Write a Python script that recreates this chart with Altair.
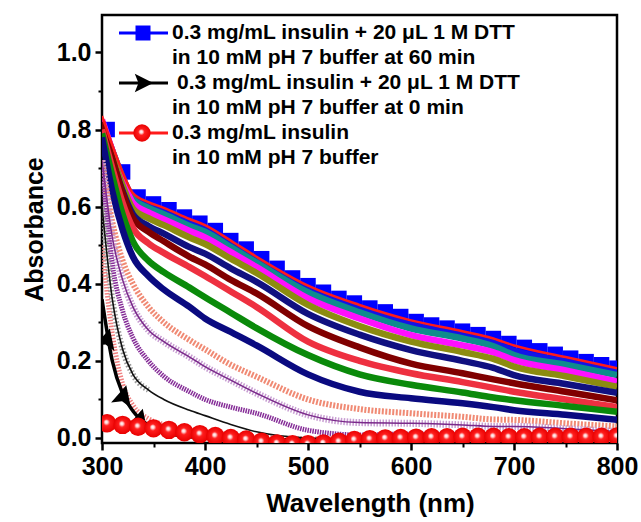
import altair as alt
import pandas as pd

# ---------------- data ----------------
wavelength = [300, 310, 320, 330, 345, 360, 385, 400, 425, 450, 500, 550, 600, 650, 680, 700, 750, 800]

red_top   = [0.835, 0.76, 0.69, 0.635, 0.612, 0.597, 0.568, 0.552, 0.512, 0.470, 0.395, 0.345, 0.305, 0.277, 0.258, 0.240, 0.210, 0.181]
blue      = [0.820, 0.75, 0.68, 0.628, 0.605, 0.590, 0.560, 0.545, 0.505, 0.463, 0.388, 0.337, 0.295, 0.268, 0.248, 0.228, 0.200, 0.172]
teal      = [0.820, 0.745, 0.675, 0.620, 0.597, 0.580, 0.550, 0.535, 0.495, 0.455, 0.378, 0.326, 0.284, 0.258, 0.238, 0.215, 0.190, 0.163]
magenta   = [0.825, 0.745, 0.670, 0.610, 0.585, 0.567, 0.537, 0.520, 0.482, 0.443, 0.362, 0.310, 0.267, 0.240, 0.222, 0.202, 0.175, 0.146]
olive     = [0.810, 0.730, 0.655, 0.595, 0.570, 0.552, 0.520, 0.503, 0.465, 0.428, 0.345, 0.290, 0.250, 0.223, 0.205, 0.185, 0.160, 0.133]
navy_a    = [0.800, 0.720, 0.640, 0.580, 0.550, 0.530, 0.495, 0.478, 0.440, 0.405, 0.322, 0.268, 0.228, 0.200, 0.182, 0.163, 0.140, 0.117]
maroon    = [0.820, 0.725, 0.635, 0.570, 0.535, 0.510, 0.470, 0.450, 0.410, 0.375, 0.290, 0.235, 0.193, 0.168, 0.152, 0.142, 0.120, 0.098]
red_mid   = [0.800, 0.700, 0.610, 0.545, 0.505, 0.480, 0.443, 0.420, 0.380, 0.340, 0.250, 0.200, 0.168, 0.145, 0.130, 0.120, 0.100, 0.080]
green     = [0.790, 0.680, 0.580, 0.510, 0.460, 0.430, 0.390, 0.365, 0.325, 0.285, 0.215, 0.165, 0.138, 0.118, 0.105, 0.098, 0.083, 0.068]
navy_b    = [0.780, 0.640, 0.540, 0.470, 0.420, 0.385, 0.340, 0.310, 0.275, 0.240, 0.165, 0.120, 0.103, 0.090, 0.080, 0.072, 0.060, 0.047]
salmon    = [0.720, 0.560, 0.460, 0.400, 0.340, 0.300, 0.254, 0.230, 0.190, 0.159, 0.100, 0.075, 0.064, 0.055, 0.048, 0.047, 0.038, 0.030]
purple_a  = [0.720, 0.520, 0.410, 0.340, 0.280, 0.250, 0.210, 0.185, 0.150, 0.116, 0.060, 0.040, 0.038, 0.034, 0.030, 0.030, 0.024, 0.017]
purple_b  = [0.700, 0.450, 0.330, 0.260, 0.200, 0.160, 0.120, 0.100, 0.080, 0.064, 0.020, 0.008, 0.010, 0.010, 0.008, 0.008, 0.006, 0.005]
pink_low  = [0.500, 0.270, 0.140, 0.085, 0.050, 0.035, 0.022, 0.015, 0.008, 0.003, -0.002, 0.0, 0.0, 0.0, 0.0, 0.0, 0.0, 0.0]
black_thin = [0.600, 0.360, 0.230, 0.165, 0.125, 0.100, 0.072, 0.058, 0.035, 0.016, 0.0, -0.003, -0.002, 0.0, 0.0, 0.0, 0.0, 0.0]
dtt_0min  = [0.360, 0.200, 0.115, 0.070, 0.033, 0.015, 0.003, 0.0, -0.002, -0.004, -0.005, -0.004, -0.002, 0.0, 0.0, 0.0, 0.0, 0.0]

# symbol positions (every ~15 nm)
sym_wavelength = [305, 320, 335, 350, 365, 380, 395, 410, 425, 440, 455, 470, 485, 500, 515, 530, 545,
                  560, 575, 590, 605, 620, 635, 650, 665, 680, 695, 710, 725, 740, 755, 770, 785, 800]
dtt_60min_sym = [0.800, 0.690, 0.625, 0.607, 0.592, 0.573, 0.557, 0.538, 0.512, 0.490, 0.465, 0.440, 0.415, 0.395,
                 0.378, 0.362, 0.350, 0.337, 0.327, 0.315, 0.302, 0.293, 0.285, 0.277, 0.268, 0.258, 0.245, 0.235,
                 0.226, 0.217, 0.207, 0.198, 0.190, 0.181]
insulin_sym = [0.038, 0.034, 0.029, 0.025, 0.021, 0.015, 0.010, 0.005, 0.0, -0.004, -0.010, -0.014, -0.016, -0.016,
               -0.014, -0.010, -0.005, -0.003, -0.001, 0.0, 0.001, 0.002, 0.002, 0.003, 0.003, 0.003, 0.002, 0.002,
               0.003, 0.003, 0.003, 0.003, 0.003, 0.004]
arrow_wavelength = [305, 321, 337]
arrow_values = [0.258, 0.111, 0.050]

legend_lines = [
    "0.3 mg/mL insulin + 20 \u03bcL 1 M DTT",
    "in 10 mM pH 7 buffer at 60 min",
    "0.3 mg/mL insulin + 20 \u03bcL 1 M DTT",
    "in 10 mM pH 7 buffer at 0 min",
    "0.3 mg/mL insulin",
    "in 10 mM pH 7 buffer",
]

# ---------------- chart ----------------
FONT = "Liberation Sans"
W, H = 515, 428
xscale = alt.Scale(domain=[300, 800], nice=False, zero=False)
yscale = alt.Scale(domain=[-0.013, 1.097], nice=False, zero=False)

x_axis = alt.Axis(values=[300, 400, 500, 600, 700, 800], format="d", title="Wavelength (nm)",
                  orient="bottom", domain=False, grid=False, tickSize=7, tickWidth=2.5, tickColor="black",
                  labelFontSize=25, labelFont=FONT, labelFontWeight="bold", labelColor="black", labelPadding=4,
                  labelFlush=False, labelOverlap=False,
                  titleFontSize=26, titleFont=FONT, titleFontWeight="bold", titleColor="black",
                  titleX=268, titleY=60, titleAlign="center", titleBaseline="middle")
y_axis = alt.Axis(values=[0.0, 0.2, 0.4, 0.6, 0.8, 1.0], format=".1f", title="Absorbance",
                  orient="left", domain=False, grid=False, tickSize=7, tickWidth=2.5, tickColor="black",
                  labelFontSize=25, labelFont=FONT, labelFontWeight="bold", labelColor="black", labelPadding=4,
                  labelFlush=False, labelOverlap=False,
                  titleFontSize=25, titleFont=FONT, titleFontWeight="bold", titleColor="black",
                  titleX=-68, titleY=H / 2, titleAlign="center", titleBaseline="middle", titleAngle=270)

X = alt.X("wl:Q", scale=xscale, axis=x_axis)
Y = alt.Y("a:Q", scale=yscale, axis=y_axis)


def frame(values, wl=wavelength):
    return pd.DataFrame({"wl": wl, "a": values})


def curve(values, color, width, dash=None, opacity=1.0, max_wl=None):
    df = frame(values)
    if max_wl is not None:
        df = df[df.wl <= max_wl]
    kw = dict(color=color, strokeWidth=width, interpolate="monotone", clip=True, opacity=opacity,
              strokeCap="butt")
    if dash:
        kw["strokeDash"] = dash
    return alt.Chart(df).mark_line(**kw).encode(x=X, y=Y)


squares = alt.Chart(frame(dtt_60min_sym, sym_wavelength)).mark_point(
    shape="square", filled=True, size=240, color="#0000FF", opacity=1, clip=True).encode(x=X, y=Y)

layers = [
    squares,
    curve(blue, "#1414E6", 5),
    curve(teal, "#0E8C8C", 6.5),
    curve(magenta, "#FF10FF", 6.5),
    curve(olive, "#8C8C10", 6.5),
    curve(navy_a, "#101080", 6.5),
    curve(maroon, "#800000", 6.5),
    curve(red_mid, "#EE3040", 6.5),
    curve(green, "#0A8A0A", 6.5),
    curve(navy_b, "#0A0A80", 6.5),
    curve(salmon, "#F08A74", 6, dash=[2, 1.5]),
    curve(purple_a, "#C89ED2", 7, dash=[1.5, 1.5]),
    curve(purple_a, "#7A2A8A", 1.5),
    curve(purple_b, "#862E98", 5, dash=[1.5, 1]),
    curve(pink_low, "#F08080", 5, dash=[1.5, 1.5]),
    curve(black_thin, "#9A9A9A", 6, dash=[1.5, 2], max_wl=345),
    curve(black_thin, "#111111", 1.6),
    curve(red_top, "#FF1A1A", 2.5),
    curve(dtt_0min, "#000000", 3.5),
]

# notched arrowhead symbol
arrow_path = "M -1 -1 L 1 0 L -1 1 L -0.6 0 Z"
arrows = alt.Chart(frame(arrow_values, arrow_wavelength)).mark_point(
    shape=arrow_path, filled=True, size=420, color="black", opacity=1, angle=285, clip=True).encode(x=X, y=Y)

sphere_fill = alt.Gradient(gradient="radial", x1=0.45, y1=0.42, r1=0.0, x2=0.5, y2=0.5, r2=0.5,
                           stops=[alt.GradientStop(offset=0.0, color="#FFFFFF"),
                                  alt.GradientStop(offset=0.16, color="#FFD6D6"),
                                  alt.GradientStop(offset=0.36, color="#FF1E1E"),
                                  alt.GradientStop(offset=1.0, color="#E80000")])
spheres = alt.Chart(frame(insulin_sym, sym_wavelength)).mark_point(
    shape="circle", filled=True, size=340, fill=sphere_fill, opacity=1, strokeWidth=0, clip=True
).encode(x=X, y=Y)

layers += [arrows, spheres]

# legend (drawn inside the plot area, pixel positions)
leg_rows = pd.DataFrame({"label": legend_lines,
                         "px": [70, 70, 75, 70, 70, 70],
                         "py": [18, 43, 68, 93, 118, 143]})
legend_text = alt.Chart(leg_rows).mark_text(
    align="left", baseline="middle", font=FONT, fontSize=21, fontWeight="bold", color="black"
).encode(x=alt.X("px:Q", scale=None), y=alt.Y("py:Q", scale=None), text="label:N")

legend_marks = []
for yy, col in [(18, "#0000FF"), (68, "#000000"), (118, "#FF1A1A")]:
    legend_marks.append(alt.Chart(leg_rows.head(1)).mark_rule(color=col, strokeWidth=3).encode(
        x=alt.value(17), x2=alt.value(66), y=alt.value(yy)))
legend_marks.append(alt.Chart(leg_rows.head(1)).mark_point(
    shape="square", filled=True, size=225, color="#0000FF", opacity=1).encode(x=alt.value(41), y=alt.value(18)))
legend_marks.append(alt.Chart(leg_rows.head(1)).mark_point(
    shape=arrow_path, filled=True, size=340, color="black", opacity=1).encode(x=alt.value(42), y=alt.value(68)))
legend_marks.append(alt.Chart(leg_rows.head(1)).mark_point(
    shape="circle", filled=True, size=300, fill=sphere_fill, opacity=1, strokeWidth=0).encode(
    x=alt.value(40), y=alt.value(118)))

main = alt.layer(*layers, *legend_marks, legend_text)

# minor ticks on a second pair of axes sharing the same scales
minor_x = alt.Axis(values=[350, 450, 550, 650, 750], orient="bottom", labels=False, title=None, domain=False,
                   grid=False, tickSize=4, tickWidth=2, tickColor="black")
minor_y = alt.Axis(values=[0.1, 0.3, 0.5, 0.7, 0.9], orient="left", labels=False, title=None, domain=False,
                   grid=False, tickSize=4, tickWidth=2, tickColor="black")
minor = alt.Chart(frame(red_top)).mark_point(opacity=0).encode(
    x=alt.X("wl:Q", scale=xscale, axis=minor_x), y=alt.Y("a:Q", scale=yscale, axis=minor_y))

chart = alt.layer(main, minor).resolve_axis(x="independent", y="independent").properties(
    width=W, height=H,
    autosize=alt.AutoSizeParams(type="none"),
    padding={"left": 102, "top": 15, "right": 24, "bottom": 79},
    background="white",
).configure_view(stroke="black", strokeWidth=2.5)

chart.save("out.html", embed_options={"renderer": "svg", "actions": False})
